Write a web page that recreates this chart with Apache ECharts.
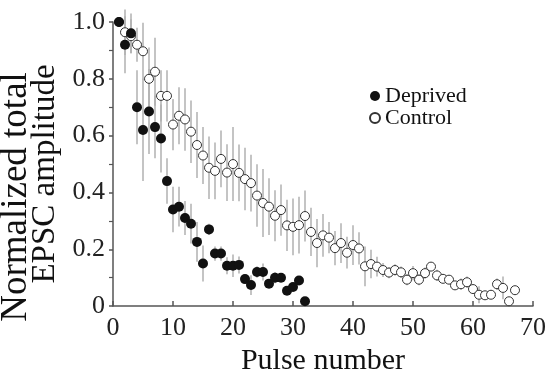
<!DOCTYPE html>
<html>
<head>
<meta charset="utf-8">
<script src="https://cdn.jsdelivr.net/npm/echarts@6/dist/echarts.min.js"></script>
<style>
html,body{margin:0;padding:0;background:#fff;}
#chart{width:558px;height:381px;}
</style>
</head>
<body>
<div id="chart"></div>
<script>
// ---- Data ----
const deprivedX = [1,2,3,4,5,6,7,8,9,10,11,12,13,14,15,16,17,18,19,20,21,22,23,24,25,26,27,28,29,30,31,32];
const deprivedY = [1.0,0.92,0.96,0.70,0.62,0.685,0.63,0.59,0.44,0.34,0.35,0.31,0.29,0.226,0.15,0.27,0.185,0.185,0.142,0.142,0.145,0.095,0.074,0.12,0.12,0.079,0.10,0.10,0.054,0.067,0.09,0.017];
const deprivedErr = [0,0.1,0.07,0.13,0.18,0.15,0.11,0.12,0.08,0.08,0.07,0.06,0.07,0.07,0.063,0.02,0.025,0.025,0.03,0.04,0.03,0.015,0.035,0.02,0.03,0.015,0.02,0.015,0.01,0.01,0.015,0.005];

const controlX = [1,2,3,4,5,6,7,8,9,10,11,12,13,14,15,16,17,18,19,20,21,22,23,24,25,26,27,28,29,30,31,32,33,34,35,36,37,38,39,40,41,42,43,44,45,46,47,48,49,50,51,52,53,54,55,56,57,58,59,60,61,62,63,64,65,66,67];
const controlY = [1.0,0.964,0.95,0.92,0.897,0.80,0.825,0.74,0.74,0.639,0.67,0.657,0.614,0.567,0.53,0.487,0.476,0.518,0.47,0.50,0.469,0.447,0.433,0.389,0.363,0.35,0.318,0.338,0.284,0.279,0.285,0.317,0.261,0.222,0.249,0.241,0.204,0.222,0.188,0.215,0.203,0.14,0.148,0.139,0.127,0.118,0.127,0.119,0.093,0.116,0.093,0.116,0.139,0.108,0.096,0.093,0.073,0.077,0.084,0.06,0.04,0.038,0.04,0.077,0.064,0.017,0.056];
const controlErr = [0,0.08,0.06,0.06,0.1,0.11,0.12,0.09,0.09,0.09,0.1,0.11,0.11,0.116,0.1,0.11,0.1,0.1,0.1,0.13,0.1,0.11,0.1,0.11,0.12,0.1,0.09,0.09,0.09,0.1,0.1,0.09,0.085,0.085,0.075,0.055,0.06,0.07,0.056,0.07,0.057,0.07,0.05,0.035,0.025,0.02,0.02,0.02,0.02,0.025,0.02,0.02,0.015,0.02,0.015,0.015,0.015,0.02,0.02,0.015,0.03,0.015,0.01,0.02,0.04,0.015,0.01];

const xTicks = [0,10,20,30,40,50,60,70];
const yTicks = [0,0.2,0.4,0.6,0.8,1.0];

// ---- Build ----
const FONT = 'Liberation Serif';
const pts = (xs, ys) => xs.map((x,i)=>[x, ys[i]]);
const errs = (xs, ys, es) => xs.map((x,i)=>[x, ys[i], es[i]]);

function renderErr(params, api){
  const x = api.value(0), y = api.value(1), e = api.value(2);
  if (!e) return null;
  const p1 = api.coord([x, y + e]);
  const p2 = api.coord([x, y - e]);
  return {type:'line', shape:{x1:p1[0], y1:p1[1], x2:p2[0], y2:p2[1]},
    style:{stroke:'#b0b0b0', lineWidth:1.5}};
}

const chart = echarts.init(document.getElementById('chart'), null, {renderer:'canvas'});
chart.setOption({
  animation:false,
  backgroundColor:'#fff',
  textStyle:{fontFamily:FONT},
  grid:{left:113, right:25, top:22, bottom:71, containLabel:false},
  legend:{
    data:['Deprived','Control'], orient:'vertical', left:364, top:80,
    itemWidth:10, itemHeight:10, itemGap:0,
    textStyle:{fontFamily:FONT, fontSize:22, color:'#111', lineHeight:21}
  },
  xAxis:{
    type:'value', min:xTicks[0], max:xTicks[xTicks.length-1], interval:10,
    name:'Pulse number', nameLocation:'middle', nameGap:39,
    nameTextStyle:{fontFamily:FONT, fontSize:30, color:'#111'},
    axisLine:{lineStyle:{color:'#555', width:1.5}},
    axisTick:{inside:true, length:5, lineStyle:{color:'#555', width:1.5}},
    axisLabel:{fontFamily:FONT, fontSize:26, color:'#222', margin:9},
    splitLine:{show:false}
  },
  yAxis:{
    type:'value', min:yTicks[0], max:yTicks[yTicks.length-1], interval:0.2,
    axisLine:{show:true, lineStyle:{color:'#555', width:1.5}},
    axisTick:{show:true, length:4, lineStyle:{color:'#555', width:1.5}},
    minorTick:{show:true, splitNumber:2, length:4, lineStyle:{color:'#555', width:1.2}},
    axisLabel:{fontFamily:FONT, fontSize:26, color:'#222', margin:8,
      formatter:v => v === 0 ? '0' : v.toFixed(1)},
    splitLine:{show:false}
  },
  graphic:[
    {type:'text', x:16, y:197, rotation:Math.PI/2,
      style:{text:'Normalized total', font:'37px "Liberation Serif"', fill:'#111', textAlign:'center', textVerticalAlign:'middle'}},
    {type:'text', x:45, y:174, rotation:Math.PI/2,
      style:{text:'EPSC amplitude', font:'33px "Liberation Serif"', fill:'#111', textAlign:'center', textVerticalAlign:'middle'}}
  ],
  series:[
    {type:'custom', name:'errC', renderItem:renderErr, data:errs(controlX, controlY, controlErr), z:1, silent:true},
    {type:'custom', name:'errD', renderItem:renderErr, data:errs(deprivedX, deprivedY, deprivedErr), z:1, silent:true},
    {type:'scatter', name:'Control', data:pts(controlX, controlY), symbol:'circle', symbolSize:9, z:3,
      itemStyle:{color:'#fff', borderColor:'#333', borderWidth:1, opacity:1}},
    {type:'scatter', name:'Deprived', data:pts(deprivedX, deprivedY), symbol:'circle', symbolSize:10, z:4,
      itemStyle:{color:'#111', opacity:1}}
  ]
});
</script>
</body>
</html>
